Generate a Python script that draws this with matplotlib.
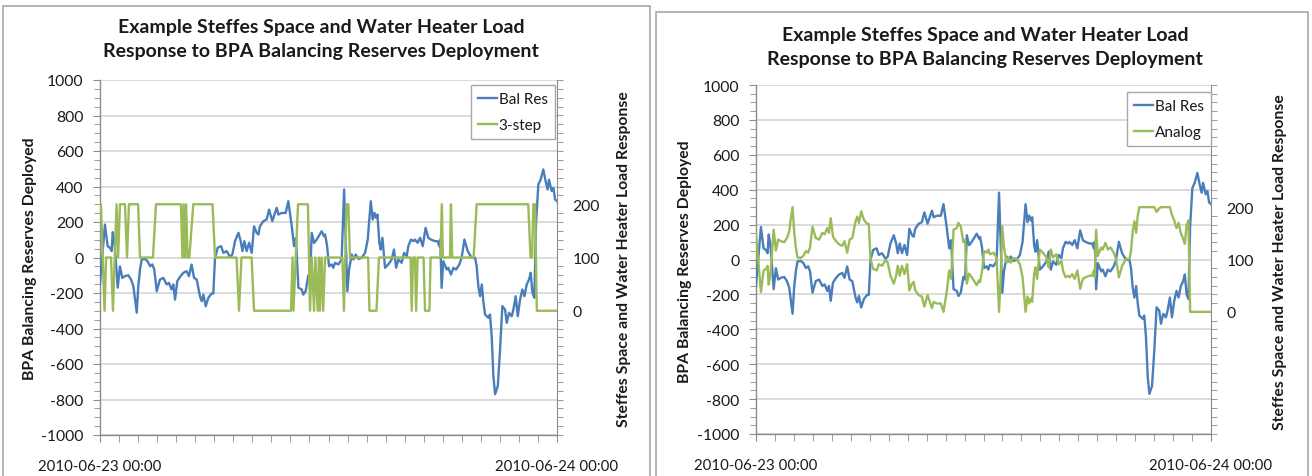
import matplotlib
matplotlib.use('Agg')
import matplotlib.pyplot as plt
from matplotlib.patches import Rectangle
from matplotlib.lines import Line2D
from matplotlib.ticker import MultipleLocator

plt.rcParams['font.family'] = ['Lato', 'DejaVu Sans']
plt.rcParams['axes.unicode_minus'] = False

# ---------------- data ----------------
# hours after 2010-06-23 00:00
hours = [0.00, 0.26, 0.40, 0.53, 0.61, 0.67, 0.75, 0.82, 0.93, 1.05,
         1.17, 1.31, 1.49, 1.63, 1.75, 1.84, 1.93, 2.01, 2.10, 2.19,
         2.36, 2.50, 2.63, 2.75, 2.85, 2.98, 3.15, 3.33, 3.50, 3.62,
         3.76, 3.85, 3.94, 4.06, 4.20, 4.38, 4.55, 4.67, 4.81, 4.94,
         5.08, 5.25, 5.34, 5.43, 5.55, 5.69, 5.86, 5.95, 6.04, 6.18,
         6.36, 6.48, 6.65, 6.83, 6.95, 7.09, 7.27, 7.39, 7.48, 7.58,
         7.70, 7.83, 7.97, 8.09, 8.23, 8.32, 8.40, 8.58, 8.75, 8.88,
         9.05, 9.28, 9.37, 9.54, 9.75, 9.89, 10.07, 10.19, 10.29, 10.42,
         10.59, 10.68, 10.80, 10.94, 11.03, 11.12, 11.24, 11.38, 11.64, 11.76,
         11.82, 11.92, 12.03, 12.17, 12.25, 12.34, 12.52, 12.69, 12.82, 12.90,
         12.99, 13.08, 13.22, 13.31, 13.43, 13.57, 13.74, 13.92, 14.06, 14.22,
         14.32, 14.41, 14.50, 14.57, 14.67, 14.74, 14.83, 14.97, 15.14, 15.32,
         15.44, 15.55, 15.67, 15.84, 15.97, 16.11, 16.19, 16.33, 16.46, 16.54,
         16.68, 16.81, 16.95, 17.10, 17.24, 17.38, 17.59, 17.73, 17.82, 17.87,
         17.94, 18.03, 18.21, 18.29, 18.43, 18.56, 18.70, 18.87, 18.99, 19.14,
         19.31, 19.52, 19.70, 19.78, 19.87, 19.96, 20.05, 20.13, 20.22, 20.40,
         20.48, 20.57, 20.66, 20.75, 20.89, 21.01, 21.13, 21.27, 21.36, 21.48,
         21.62, 21.71, 21.83, 21.94, 22.06, 22.18, 22.29, 22.41, 22.53, 22.62,
         22.71, 22.81, 22.90, 23.02, 23.14, 23.28, 23.42, 23.51, 23.58, 23.72,
         23.81, 23.90, 24.00]

bal_res = [-150, 186, 64, 54, 36, 143, 92, 0, -170, -50,
           -115, -105, -100, -124, -160, -237, -311, -162, -68, -11,
           -8, -21, -49, -39, -68, -190, -124, -115, -152, -143,
           -180, -152, -237, -133, -109, -86, -77, -105, -40, -115,
           -124, -218, -246, -209, -275, -227, -203, -203, -2, 55,
           64, 26, 36, 4, 17, 92, 139, 92, 36, 92,
           36, 83, 26, 176, 139, 130, 176, 205, 214, 270,
           205, 280, 242, 251, 251, 317, 176, 64, 110, -170,
           -180, -209, -190, -100, -115, 139, 82, 101, 148, 120,
           130, 70, -49, -39, -58, -30, -39, -11, 383, 120,
           -190, -68, 17, -11, 17, -8, -2, 26, 101, 317,
           214, 252, 223, 242, 83, 45, 111, -58, -39, -11,
           45, -58, -11, -30, 26, 8, 64, 101, 92, 101,
           83, 111, 64, 167, 111, 101, 92, 92, 64, 101,
           -171, -21, -68, -58, -96, -58, -68, -39, -2, 101,
           36, -2, -2, -49, -162, -218, -152, -246, -321, -340,
           -321, -443, -669, -770, -725, -518, -274, -293, -368, -312,
           -331, -293, -218, -331, -237, -180, -218, -152, -124, -86,
           -199, -227, 195, 411, 439, 496, 421, 383, 439, 374,
           392, 327, 317]

analog = [150, 38, 79, 82, 88, 52, 69, 100, 157, 117,
          138, 135, 133, 141, 153, 179, 200, 154, 123, 104,
          103, 107, 116, 113, 123, 163, 141, 138, 151, 148,
          160, 151, 179, 144, 136, 129, 126, 135, 113, 138,
          141, 173, 182, 170, 192, 176, 168, 168, 101, 82,
          79, 91, 88, 99, 94, 69, 54, 69, 88, 69,
          88, 72, 91, 41, 54, 57, 41, 32, 29, 10,
          32, 7, 19, 16, 16, 0, 41, 79, 63, 157,
          160, 170, 163, 133, 138, 54, 73, 66, 51, 60,
          57, 77, 116, 113, 119, 110, 113, 104, 0, 60,
          163, 123, 94, 104, 94, 103, 101, 91, 66, 0,
          29, 16, 26, 19, 72, 85, 63, 119, 113, 104,
          85, 119, 104, 110, 91, 97, 79, 66, 69, 66,
          72, 63, 79, 44, 63, 66, 69, 69, 79, 66,
          157, 107, 123, 119, 132, 119, 123, 113, 101, 66,
          88, 101, 101, 116, 154, 173, 151, 182, 200, 200,
          200, 200, 200, 200, 200, 200, 191, 198, 200, 200,
          200, 200, 200, 185, 175, 160, 170, 150, 140, 130,
          165, 175, 0, 0, 0, 0, 0, 0, 0, 0,
          0, 0, 0]

step_hours = [0.00, 0.05, 0.24, 0.32, 0.58, 0.68, 0.87, 0.95, 1.05, 1.31,
              1.42, 1.52, 2.00, 2.10, 2.78, 2.94, 4.25, 4.33, 4.39, 4.46,
              4.52, 4.60, 4.69, 4.90, 5.91, 6.04, 7.17, 7.30, 7.43, 7.96,
              8.09, 10.03, 10.11, 10.16, 10.40, 10.92, 11.03, 11.12, 11.24, 11.31,
              11.43, 11.50, 11.55, 11.64, 11.72, 11.82, 12.73, 12.81, 12.95, 13.04,
              13.13, 14.08, 14.15, 14.52, 14.65, 16.31, 16.37, 16.44, 16.54, 16.60,
              16.68, 16.99, 17.07, 17.30, 17.36, 17.88, 17.95, 18.01, 18.38, 18.43,
              18.50, 19.62, 19.78, 22.49, 22.61, 22.69, 22.76, 22.85, 22.94, 24.00]
step_levels = [200, 200, 0, 100, 100, 0, 200, 100, 200, 200,
               100, 200, 200, 100, 100, 200, 200, 100, 200, 100,
               200, 100, 100, 200, 200, 100, 100, 0, 100, 100,
               0, 0, 100, 0, 200, 200, 0, 100, 0, 100,
               0, 100, 0, 100, 0, 100, 100, 0, 200, 200,
               100, 100, 0, 0, 100, 100, 0, 100, 100, 0,
               100, 100, 0, 0, 100, 100, 200, 100, 100, 200,
               100, 100, 200, 200, 100, 100, 200, 200, 0, 0]

title_lines = ["Example Steffes Space and Water Heater Load",
               "Response to BPA Balancing Reserves Deployment"]
x_tick_labels = ["2010-06-23 00:00", "2010-06-24 00:00"]
left_ylabel = "BPA Balancing Reserves Deployed"
right_ylabel = "Steffes Space and Water Heater Load Response"
series_names = ["Bal Res", "3-step", "Analog"]
left_ticks = list(range(-1000, 1001, 200))
right_ticks = [0, 100, 200]

# ---------------- drawing ----------------
W, H = 1312, 477
fig = plt.figure(figsize=(W / 100, H / 100), dpi=100)

BLUE = '#4a7ebb'
GREEN = '#9bbb59'
GRID = '#d4d4d4'
AXC = '#8c8c8c'
BORDER = '#a8a8a8'
TXT = '#1a1a1a'
TICK_FS = 11.3


def px_text(x, y, s, **kw):
    fig.text(x / W, 1 - y / H, s, **kw)


def panel(frame, box, title_cx, title_y, ylab_x, rylab_x, ylab_y,
          gx, gy, gname, leg_xy):
    fl, ft, fr, fb = frame
    fig.patches.append(Rectangle((fl / W, 1 - fb / H), (fr - fl) / W, (fb - ft) / H,
                                 transform=fig.transFigure, fill=False,
                                 edgecolor=BORDER, lw=1.2))
    l, t, r, b = box
    ax = fig.add_axes([l / W, 1 - b / H, (r - l) / W, (b - t) / H])
    ax.set_facecolor('none')
    ax.set_xlim(0, 24)
    ax.set_ylim(-1000, 1000)
    ax.set_yticks(left_ticks)
    ax.yaxis.set_minor_locator(MultipleLocator(50))
    ax.set_xticks([0, 24])
    ax.set_xticklabels(x_tick_labels)
    ax.xaxis.set_minor_locator(MultipleLocator(1))
    ax.grid(True, axis='y', which='major', color=GRID, lw=1.2)
    ax.set_axisbelow(True)
    for s in ['top', 'right']:
        ax.spines[s].set_visible(False)
    for s in ['left', 'bottom']:
        ax.spines[s].set_color(AXC)
        ax.spines[s].set_linewidth(1.0)
    ax.tick_params(axis='y', which='both', direction='out', color=AXC,
                   labelsize=TICK_FS, labelcolor=TXT, pad=7)
    ax.tick_params(axis='y', which='major', length=5)
    ax.tick_params(axis='y', which='minor', length=4)
    ax.tick_params(axis='x', which='both', direction='out', color=AXC, length=5,
                   labelsize=10.8, labelcolor=TXT, pad=12)
    ax.plot(hours, bal_res, color=BLUE, lw=1.7, solid_joinstyle='round', zorder=3)

    ax2 = ax.twinx()
    ax2.set_ylim(-700 / 3, 1300 / 3)
    ax2.set_yticks(right_ticks)
    ax2.yaxis.set_minor_locator(MultipleLocator(100 / 6))
    for s in ['top', 'left', 'bottom']:
        ax2.spines[s].set_visible(False)
    ax2.spines['right'].set_color(AXC)
    ax2.tick_params(axis='y', which='both', direction='out', color=AXC,
                    labelsize=TICK_FS, labelcolor=TXT, pad=11)
    ax2.tick_params(axis='y', which='major', length=0)
    ax2.tick_params(axis='y', which='minor', length=4)
    ax2.plot(gx, gy, color=GREEN, lw=1.7, solid_joinstyle='round', zorder=3)

    handles = [Line2D([], [], color=BLUE, lw=1.7), Line2D([], [], color=GREEN, lw=1.7)]
    leg = ax2.legend(handles, [series_names[0], gname], loc='upper left',
                     bbox_to_anchor=((leg_xy[0] - l) / (r - l), (b - leg_xy[1]) / (b - t)),
                     fontsize=11, frameon=True, fancybox=False, framealpha=1,
                     edgecolor=BORDER, handlelength=1.25, handletextpad=0.12,
                     borderpad=0.45, labelspacing=0.8, borderaxespad=0)
    leg.get_frame().set_linewidth(1.0)
    for txt in leg.get_texts():
        txt.set_color(TXT)

    px_text(title_cx, title_y, title_lines[0], ha='center', va='center',
            fontsize=14, fontweight='bold', color=TXT)
    px_text(title_cx, title_y + 25, title_lines[1], ha='center', va='center',
            fontsize=14, fontweight='bold', color=TXT)
    px_text(ylab_x, ylab_y, left_ylabel, ha='center', va='center', rotation=90,
            fontsize=11.3, fontweight='bold', color=TXT)
    px_text(rylab_x, ylab_y, right_ylabel, ha='center', va='center', rotation=90,
            fontsize=11.3, fontweight='bold', color=TXT)


panel(frame=(3, 7, 650, 500), box=(100, 81, 557, 436),
      title_cx=321, title_y=27, ylab_x=30, rylab_x=624, ylab_y=259,
      gx=step_hours, gy=step_levels, gname=series_names[1], leg_xy=(471, 86))
panel(frame=(656, 13, 1308, 500), box=(756, 86, 1211, 435),
      title_cx=985, title_y=35, ylab_x=685, rylab_x=1280, ylab_y=262,
      gx=hours, gy=analog, gname=series_names[2], leg_xy=(1127, 93))

fig.savefig('out.png', dpi=100, facecolor='white')
